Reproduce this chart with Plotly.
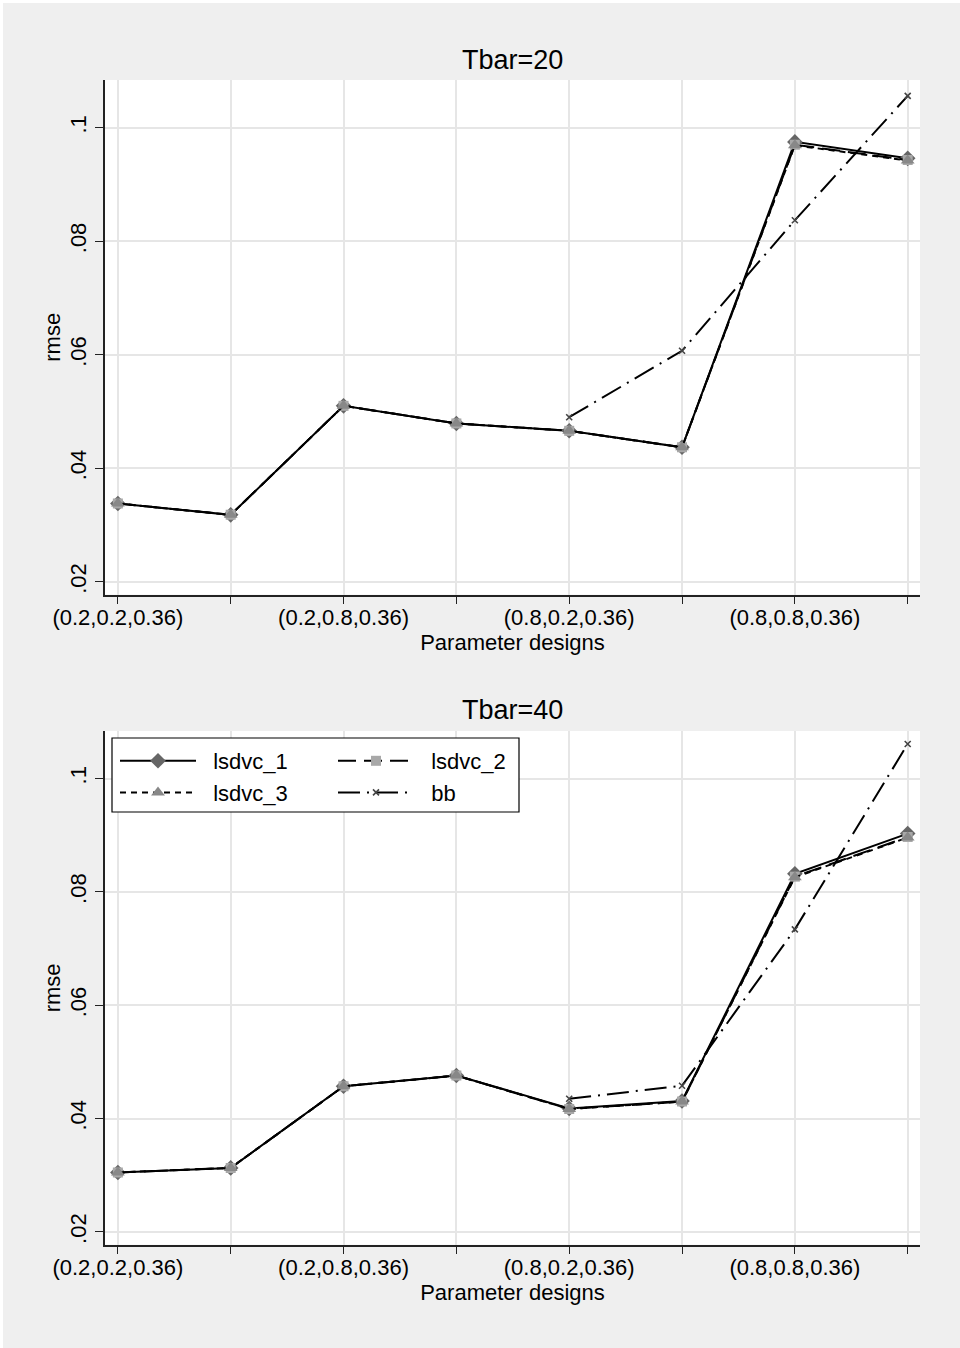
import plotly.graph_objects as go
from plotly.subplots import make_subplots

# Parameter designs on the x axis (only every other design is labelled)
design_pos = [1, 2, 3, 4, 5, 6, 7, 8]
design_labels = ["(0.2,0.2,0.36)", "", "(0.2,0.8,0.36)", "",
                 "(0.8,0.2,0.36)", "", "(0.8,0.8,0.36)", ""]

y_ticks = [0.02, 0.04, 0.06, 0.08, 0.10]
y_ticklabels = [".02", ".04", ".06", ".08", ".1"]

# RMSE, Tbar=20
t20_lsdvc_1 = [0.0338, 0.0318, 0.0510, 0.0479, 0.0466, 0.0437, 0.0975, 0.0946]
t20_lsdvc_2 = [0.0338, 0.0318, 0.0510, 0.0479, 0.0466, 0.0437, 0.0970, 0.0943]
t20_lsdvc_3 = [0.0338, 0.0318, 0.0510, 0.0479, 0.0466, 0.0437, 0.0969, 0.0942]
t20_bb = [None, None, None, None, 0.0490, 0.0607, 0.0837, 0.1056]

# RMSE, Tbar=40
t40_lsdvc_1 = [0.0305, 0.0313, 0.0457, 0.0476, 0.0418, 0.0431, 0.0832, 0.0903]
t40_lsdvc_2 = [0.0305, 0.0313, 0.0457, 0.0476, 0.0417, 0.0430, 0.0827, 0.0897]
t40_lsdvc_3 = [0.0305, 0.0313, 0.0457, 0.0476, 0.0417, 0.0430, 0.0826, 0.0896]
t40_bb = [None, None, None, None, 0.0435, 0.0458, 0.0734, 0.1061]

W, H = 960, 1348
ML, MR = 105, 40
FONT = "Liberation Sans, Arial, Helvetica, sans-serif"
NB = "\u00a0"


def py(p):
    """pixel row -> paper y"""
    return 1 - p / H


def px(p):
    """pixel column -> paper x"""
    return (p - ML) / (W - ML - MR)


styles = {
    "lsdvc_1": dict(line=dict(color="black", width=2, dash="solid"),
                    marker=dict(symbol="diamond", size=12, color="#666666")),
    "lsdvc_2": dict(line=dict(color="black", width=2, dash="18px,8px"),
                    marker=dict(symbol="square", size=10, color="#a8a8a8")),
    "lsdvc_3": dict(line=dict(color="black", width=2, dash="6px,5px"),
                    marker=dict(symbol="triangle-up", size=12, color="#888888")),
    "bb": dict(line=dict(color="black", width=2, dash="22px,7px,2px,7px"),
               marker=dict(symbol="x-thin", size=6, color="#444444",
                           line=dict(width=1.6, color="#444444"))),
}
legend_of = {"lsdvc_1": "legend", "lsdvc_3": "legend",
             "lsdvc_2": "legend2", "bb": "legend2"}

fig = make_subplots(rows=2, cols=1)

panels = [
    (1, {"lsdvc_1": t20_lsdvc_1, "lsdvc_2": t20_lsdvc_2,
         "lsdvc_3": t20_lsdvc_3, "bb": t20_bb}),
    (2, {"lsdvc_1": t40_lsdvc_1, "lsdvc_2": t40_lsdvc_2,
         "lsdvc_3": t40_lsdvc_3, "bb": t40_bb}),
]

for row, series in panels:
    for name in ["lsdvc_1", "lsdvc_2", "lsdvc_3", "bb"]:
        fig.add_trace(go.Scatter(
            x=design_pos, y=series[name], name=NB * 2 + name, mode="lines+markers",
            line=styles[name]["line"], marker=styles[name]["marker"],
            connectgaps=False, showlegend=(row == 2),
            legend=legend_of[name],
        ), row=row, col=1)

axis_common = dict(showline=True, linecolor="#222222", linewidth=1.5,
                   ticks="outside", ticklen=8, tickwidth=1.3, tickcolor="#222222",
                   showgrid=True, gridcolor="#e6e6e6", gridwidth=1.5,
                   zeroline=False, tickfont=dict(family=FONT, size=22, color="black"))

for row, (top, bot) in [(1, (80, 594.6)), (2, (731, 1244.7))]:
    fig.update_xaxes(range=[0.886, 8.109], tickvals=design_pos, ticktext=design_labels,
                     ticklabelstandoff=-6,
                     title=dict(text="Parameter designs",
                                font=dict(family=FONT, size=22, color="black"),
                                standoff=0),
                     **axis_common, row=row, col=1)
    fig.update_yaxes(range=[0.01775, 0.1084], tickvals=y_ticks, ticktext=y_ticklabels,
                     tickangle=-90, domain=[py(bot), py(top)],
                     title=dict(text="rmse",
                                font=dict(family=FONT, size=22, color="black"),
                                standoff=0),
                     **axis_common, row=row, col=1)

fig.update_layout(xaxis=dict(anchor="y"), xaxis2=dict(anchor="y2"))

annotations = [
    dict(text="Tbar=20", x=0.5, y=py(60), xref="paper", yref="paper",
         showarrow=False, font=dict(family=FONT, size=27, color="black"),
         xanchor="center", yanchor="middle"),
    dict(text="Tbar=40", x=0.5, y=py(710), xref="paper", yref="paper",
         showarrow=False, font=dict(family=FONT, size=27, color="black"),
         xanchor="center", yanchor="middle"),
]

shapes = [
    # legend box
    dict(type="rect", xref="paper", yref="paper",
         x0=px(112), x1=px(519), y0=py(812), y1=py(738),
         fillcolor="white", line=dict(color="black", width=1.2), layer="above"),
    # thin white frame at top and left edges of the page
    dict(type="rect", xref="paper", yref="paper", x0=px(0), x1=px(W), y0=py(3), y1=py(0),
         fillcolor="white", line=dict(width=0), layer="above"),
    dict(type="rect", xref="paper", yref="paper", x0=px(0), x1=px(3), y0=py(H), y1=py(0),
         fillcolor="white", line=dict(width=0), layer="above"),
]

legend_common = dict(bgcolor="rgba(0,0,0,0)", borderwidth=0, itemwidth=76,
                     font=dict(family=FONT, size=22, color="black"),
                     xanchor="left", yanchor="top", orientation="v",
                     tracegroupgap=0, itemclick=False)

fig.update_layout(
    width=W, height=H,
    margin=dict(l=ML, r=MR, t=0, b=0),
    paper_bgcolor="#efefef", plot_bgcolor="white",
    font=dict(family=FONT, color="black"),
    annotations=annotations, shapes=shapes,
    legend=dict(x=px(115), y=py(740), **legend_common),
    legend2=dict(x=px(333), y=py(740), **legend_common),
)

fig.write_html("out.html")
